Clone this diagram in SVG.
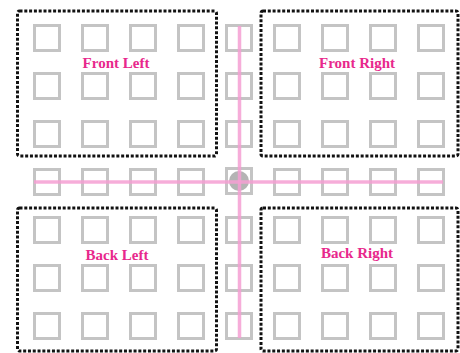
<svg xmlns="http://www.w3.org/2000/svg" width="460" height="353" viewBox="0 0 460 353">
<defs>
<style>
.sq{fill:none;stroke:#c4c4c4;stroke-width:3}
.zone{fill:none;stroke:#111;stroke-width:3;stroke-dasharray:3 1.8}
.lbl{font-family:"Liberation Serif","Times New Roman",serif;font-weight:bold;font-size:15px;fill:#e8288c;text-anchor:middle}
.axis{stroke:#f49fd2;stroke-width:3.5;stroke-opacity:0.85}
</style>
<rect id="s" class="sq" x="-12.5" y="-12.5" width="25" height="25"/>
</defs>
<rect width="460" height="353" fill="#fff"/>
<g id="grid">
<g id="row1">
<use href="#s" x="47" y="38"/><use href="#s" x="95" y="38"/><use href="#s" x="143" y="38"/><use href="#s" x="191" y="38"/><use href="#s" x="239" y="38"/><use href="#s" x="287" y="38"/><use href="#s" x="335" y="38"/><use href="#s" x="383" y="38"/><use href="#s" x="431" y="38"/>
</g>
<g id="row2">
<use href="#s" x="47" y="86"/><use href="#s" x="95" y="86"/><use href="#s" x="143" y="86"/><use href="#s" x="191" y="86"/><use href="#s" x="239" y="86"/><use href="#s" x="287" y="86"/><use href="#s" x="335" y="86"/><use href="#s" x="383" y="86"/><use href="#s" x="431" y="86"/>
</g>
<g id="row3">
<use href="#s" x="47" y="134"/><use href="#s" x="95" y="134"/><use href="#s" x="143" y="134"/><use href="#s" x="191" y="134"/><use href="#s" x="239" y="134"/><use href="#s" x="287" y="134"/><use href="#s" x="335" y="134"/><use href="#s" x="383" y="134"/><use href="#s" x="431" y="134"/>
</g>
<g id="row4">
<use href="#s" x="47" y="182"/><use href="#s" x="95" y="182"/><use href="#s" x="143" y="182"/><use href="#s" x="191" y="182"/><use href="#s" x="239" y="181"/><use href="#s" x="287" y="182"/><use href="#s" x="335" y="182"/><use href="#s" x="383" y="182"/><use href="#s" x="431" y="182"/>
</g>
<g id="row5">
<use href="#s" x="47" y="230"/><use href="#s" x="95" y="230"/><use href="#s" x="143" y="230"/><use href="#s" x="191" y="230"/><use href="#s" x="239" y="230"/><use href="#s" x="287" y="230"/><use href="#s" x="335" y="230"/><use href="#s" x="383" y="230"/><use href="#s" x="431" y="230"/>
</g>
<g id="row6">
<use href="#s" x="47" y="278"/><use href="#s" x="95" y="278"/><use href="#s" x="143" y="278"/><use href="#s" x="191" y="278"/><use href="#s" x="239" y="278"/><use href="#s" x="287" y="278"/><use href="#s" x="335" y="278"/><use href="#s" x="383" y="278"/><use href="#s" x="431" y="278"/>
</g>
<g id="row7">
<use href="#s" x="47" y="326"/><use href="#s" x="95" y="326"/><use href="#s" x="143" y="326"/><use href="#s" x="191" y="326"/><use href="#s" x="239" y="326"/><use href="#s" x="287" y="326"/><use href="#s" x="335" y="326"/><use href="#s" x="383" y="326"/><use href="#s" x="431" y="326"/>
</g>
<circle id="center" cx="239" cy="181" r="10" fill="#b4b4b4"/>
</g>
<g id="front-left">
<rect class="zone" x="17.5" y="11" width="199" height="145" rx="2"/>
<text class="lbl" x="116" y="68">Front Left</text>
</g>
<g id="front-right">
<rect class="zone" x="261" y="11" width="197" height="145" rx="2"/>
<text class="lbl" x="357" y="68">Front Right</text>
</g>
<g id="back-left">
<rect class="zone" x="17.5" y="208" width="199" height="143" rx="2"/>
<text class="lbl" x="117" y="260">Back Left</text>
</g>
<g id="back-right">
<rect class="zone" x="261" y="208" width="197" height="143" rx="2"/>
<text class="lbl" x="357" y="258">Back Right</text>
</g>
<g id="connectors">
<line class="axis" x1="239.5" y1="26" x2="239.5" y2="338"/>
<line class="axis" x1="34" y1="182" x2="443" y2="182"/>
</g>
</svg>
